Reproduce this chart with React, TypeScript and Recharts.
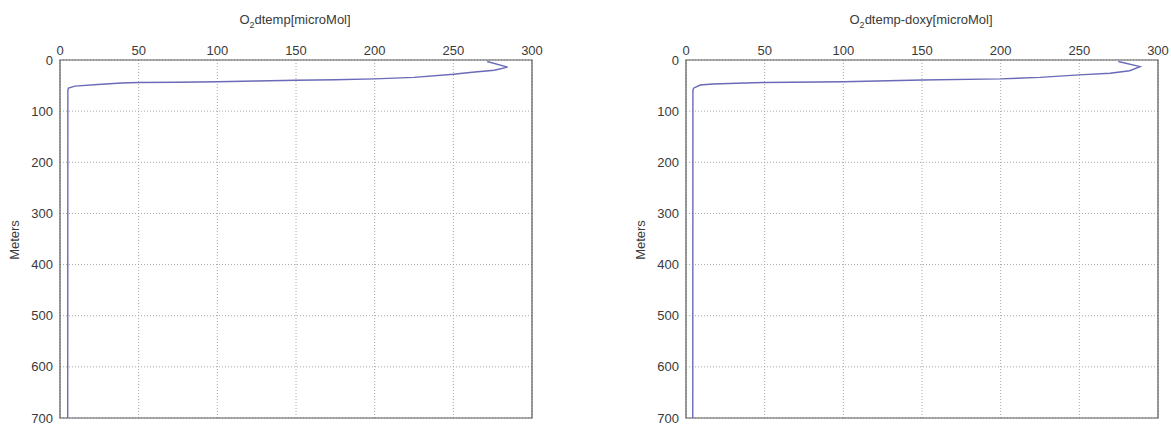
import React from 'react';
import { LineChart, Line, XAxis, YAxis, CartesianGrid, ReferenceArea } from 'recharts';

const xTicks = [0, 50, 100, 150, 200, 250, 300];
const yTicks = [0, 100, 200, 300, 400, 500, 600, 700];

const depthsA = [3, 14, 20, 24, 28, 34, 37, 38.5, 39.5, 41, 42.5, 43.5, 44, 45, 48, 51, 55, 60, 700];
const o2dtemp = [271.5, 284.5, 276, 262, 250, 225, 200, 175, 150, 125, 100, 75, 50, 39, 24, 9.5, 5.4, 5, 4.9];

const depthsB = [3, 13, 21, 26, 29, 34, 37, 39, 42.5, 44, 44.5, 47, 49, 55, 60, 700];
const o2doxy = [274.8, 288.6, 282, 269.5, 250, 225, 200, 150, 100, 50, 43, 17, 9, 4.8, 4.4, 4.3];

const build = (depths: number[], vals: number[]) => depths.map((d, i) => ({ depth: d, o2: vals[i] }));

const FONT = '"Liberation Sans", Arial, sans-serif';
const tickStyle = { fontSize: 13, fill: '#3a3a3a', fontFamily: FONT };

function Profile({ data, width, marginRight }: { data: any[]; width: number; marginRight: number }) {
  return (
    <LineChart width={width} height={426} data={data} margin={{ top: 30, right: marginRight, bottom: 8, left: 0 }}>
      <CartesianGrid stroke="#a8a8a8" strokeDasharray="1 2" />
      <XAxis
        type="number"
        dataKey="o2"
        orientation="top"
        domain={[0, 300]}
        ticks={xTicks}
        interval={0}
        height={30}
        axisLine={false}
        tickLine={false}
        tickSize={4}
        tickMargin={1}
        tick={tickStyle}
      />
      <YAxis
        type="number"
        dataKey="depth"
        domain={[0, 700]}
        reversed
        ticks={yTicks}
        interval={0}
        width={60}
        axisLine={false}
        tickLine={false}
        tickSize={4}
        tickMargin={3}
        tick={tickStyle}
      />
      <ReferenceArea x1={0} x2={300} y1={0} y2={700} fill="none" stroke="#5a5a5a" strokeWidth={1.2} ifOverflow="visible" />
      <Line type="linear" dataKey="depth" stroke="#6a6ab8" strokeWidth={1.4} dot={false} isAnimationActive={false} />
    </LineChart>
  );
}

function Title({ cx, rest }: { cx: number; rest: string }) {
  return (
    <div style={{ position: 'absolute', left: cx, top: 12, transform: 'translateX(-50%)', fontFamily: FONT, fontSize: 13, color: '#3a3a3a', whiteSpace: 'nowrap' }}>
      O<sub style={{ fontSize: 9 }}>2</sub>{rest}
    </div>
  );
}

function Meters({ cx }: { cx: number }) {
  return (
    <div style={{ position: 'absolute', left: cx, top: 240, transform: 'translate(-50%, -50%) rotate(-90deg)', fontFamily: FONT, fontSize: 13, color: '#3a3a3a', whiteSpace: 'nowrap' }}>
      Meters
    </div>
  );
}

export default function App() {
  return (
    <div style={{ position: 'absolute', left: 0, top: 0, width: 1171, height: 426, background: '#fff', overflow: 'hidden' }}>
      <div style={{ position: 'absolute', left: 0, top: 0 }}>
        <Profile data={build(depthsA, o2dtemp)} width={600} marginRight={68} />
      </div>
      <div style={{ position: 'absolute', left: 626, top: 0 }}>
        <Profile data={build(depthsB, o2doxy)} width={545} marginRight={13} />
      </div>
      <Title cx={295} rest="dtemp[microMol]" />
      <Title cx={921} rest="dtemp-doxy[microMol]" />
      <Meters cx={14} />
      <Meters cx={640} />
    </div>
  );
}
